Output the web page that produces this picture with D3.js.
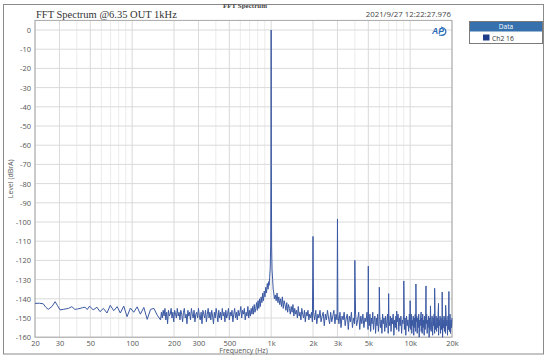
<!DOCTYPE html>
<html><head><meta charset="utf-8">
<script src="https://cdn.jsdelivr.net/npm/d3@7"></script>
<style>body{margin:0;background:#fff}svg{display:block}</style>
</head><body>
<svg id="c" width="550" height="358"></svg>
<script>
// ---- data ----
const xTicks = [20,30,50,100,200,300,500,1000,2000,3000,5000,10000,20000];
const xTickLabels = ["20","30","50","100","200","300","500","1k","2k","3k","5k","10k","20k"];
const xMinorGrid = [40,60,70,80,90,400,600,700,800,900,4000,6000,7000,8000,9000];
const yTicks = [0,-10,-20,-30,-40,-50,-60,-70,-80,-90,-100,-110,-120,-130,-140,-150,-160];

// low-frequency part of the trace (explicit points)
const lowHz = [20,21.5,22.9,24,24.9,26.5,27.9,29,30.3,32,33.5,34.8,36.8,38.7,40.5,42.2,44,45.9,47.5,49.4,52.4,55.8,58.7,62.1,65.9,69.6,73.7,78,82.2,87,91.9,97.1,102.7,108.6,114.6,121.3,128.3,135.6,143.3,151.4];
const lowDb = [-142.4,-142.3,-142.6,-144.5,-145.5,-144,-141.5,-143.5,-145.8,-145.5,-145.2,-145,-144.1,-145.5,-145.3,-145,-144.6,-144.4,-145.6,-143.8,-145.8,-144.4,-146.7,-145,-147.4,-143.4,-146.2,-144.1,-147.4,-143.8,-149.3,-144.8,-147,-144.2,-148,-144.5,-150.7,-145.5,-145,-148.5];

// dense noise bands: [startHz, endHz] and the values read across each band
const bandHz = [[160,690],[700,962],[1040,1980],[2020,2980],[3020,4980],[5020,9980],[10020,20000]];
const bandDb = [
 [-151,-147,-150,-146,-149,-145,-151,-147,-153,-146,-149,-148,-145,-150,-147,-152,-146,-148,-150,-145,-149,-147,-151,-146,-148,-152,-147,-145,-150,-148,-153,-146,-149,-147,-151,-145,-148,-150,-146,-152,-148,-147,-150,-145,-149,-151,-147,-153,-146,-148,-150,-146,-152,-148,-145,-150,-147,-151,-146,-149,-153,-147,-150,-145,-148,-152,-146,-150,-147,-151,-145,-149,-147,-152,-146,-150,-148,-145,-151,-147,-149,-146,-152,-148,-145,-150,-147,-151,-146,-149,-147,-144,-150,-146,-148,-145,-151,-147,-149,-144,-150],
 [-146,-149,-145,-148,-144,-148,-143,-147,-145,-142,-146,-141,-145,-140,-144,-139,-142,-137,-141,-136,-139,-134,-137,-132,-135,-131],
 [-136,-140,-138,-141,-137,-142,-139,-143,-140,-144,-139,-145,-141,-143,-146,-142,-147,-143,-145,-148,-144,-147,-143,-149,-145,-148,-146,-150,-144,-149,-147,-151,-145,-148,-150,-146,-152,-147,-149,-146,-151,-148,-150,-147,-152],
 [-147,-151,-146,-153,-148,-150,-146,-152,-149,-147,-154,-148,-151,-146,-150,-153,-147,-152,-149,-146,-153,-148,-151],
 [-148,-153,-147,-155,-149,-151,-147,-154,-150,-148,-156,-149,-152,-147,-155,-150,-153,-148,-154,-151,-147,-156,-149,-153,-148,-155,-150,-152,-147,-156],
 [-149,-154,-148,-157,-150,-153,-147,-156,-151,-149,-158,-150,-154,-148,-157,-152,-149,-155,-151,-158,-148,-153,-150,-157,-149,-155,-152,-148,-158,-151,-154,-149,-157,-150,-153,-148,-159,-151,-155,-149,-156,-152,-148,-157,-150,-154,-149,-158,-151,-153,-148,-156,-150,-159,-149,-154,-151,-157,-148,-155],
 [-150,-156,-148,-158,-151,-154,-149,-159,-150,-155,-148,-157,-152,-149,-158,-150,-155,-148,-160,-151,-154,-149,-157,-150,-158,-148,-155,-151,-159,-149,-156,-150,-153,-148,-158,-151,-155,-149,-160,-150,-156,-148,-157,-152,-149,-159,-150,-154,-148,-158,-151,-156,-149,-157,-150,-155,-148,-159,-151,-154,-149,-158,-150,-156,-148,-160,-151,-155,-149,-157,-150,-158,-148,-154,-151,-159,-149,-156,-150,-157,-148,-158,-151,-155,-150]
];

// skirt around the fundamental
const skirtHz = [966,975,985,992,997,1003,1008,1015,1025,1034];
const skirtDb = [-133,-129,-124,-112,-70,-70,-113,-125,-130,-135];

// fundamental and harmonics
const harmHz = [1000,2000,3000,4000,5000,6000,7000,8000,9000,10000,11000,12000,13000,14000,15000,16000,17000,18000,19000];
const harmDb = [0,-107.5,-98.4,-120,-123,-134,-137.3,-146.4,-130.7,-141,-132.3,-146.9,-133.3,-143.7,-134.5,-142.4,-136.5,-143.4,-136.2];

// ---- layout ----
const svg = d3.select("#c");
const L=35, R=452, T=20.4, B=337.2;
const x = d3.scaleLog().domain([20,20000]).range([L,R]);
const y = d3.scaleLinear().domain([-160,5]).range([B,T]);

// outer frame
svg.append("rect").attr("x",3.5).attr("y",4.5).attr("width",540).attr("height",349.5)
  .attr("fill","#fff").attr("stroke","#8a8a8a").attr("stroke-width",1);

// grid
const g = svg.append("g");
g.selectAll(".mn").data(xMinorGrid).join("line")
  .attr("x1",d=>x(d)).attr("x2",d=>x(d)).attr("y1",T).attr("y2",B)
  .attr("stroke","#ececec").attr("stroke-width",1);
g.selectAll(".mj").data(xTicks).join("line")
  .attr("x1",d=>x(d)).attr("x2",d=>x(d)).attr("y1",T).attr("y2",B)
  .attr("stroke","#dadada").attr("stroke-width",1);
g.selectAll(".hz").data(yTicks).join("line")
  .attr("x1",L).attr("x2",R).attr("y1",d=>y(d)).attr("y2",d=>y(d))
  .attr("stroke","#dadada").attr("stroke-width",1);

// plot border
svg.append("rect").attr("x",L).attr("y",T).attr("width",R-L).attr("height",B-T)
  .attr("fill","none").attr("stroke","#a8a8a8").attr("stroke-width",1);

// build trace
let pts = lowHz.map((f,i)=>({f, v: lowDb[i]}));
bandHz.forEach((b,k)=>{
  const vals = bandDb[k], n = vals.length;
  const pos = d3.scaleLinear().domain([0,n-1]).range([Math.log10(b[0]),Math.log10(b[1])]);
  vals.forEach((v,i)=>pts.push({f: Math.pow(10,pos(i)), v}));
});
skirtHz.forEach((f,i)=>pts.push({f, v: skirtDb[i]}));
harmHz.forEach((f,i)=>pts.push({f, v: harmDb[i]}));
pts.sort((a,b)=>a.f-b.f);

const line = d3.line().x(d=>x(d.f)).y(d=>y(d.v));
svg.append("path").datum(pts).attr("d",line)
  .attr("fill","none").attr("stroke","#3b59a3").attr("stroke-width",1)
  .attr("stroke-linejoin","round");

// axes
const font = "'Open Sans', 'DejaVu Sans', sans-serif";
const ya = svg.append("g").attr("transform",`translate(${L},0)`)
  .call(d3.axisLeft(y).tickValues(yTicks).tickSize(0).tickPadding(4).tickFormat(d=>d));
const xa = svg.append("g").attr("transform",`translate(0,${B})`)
  .call(d3.axisBottom(x).tickValues(xTicks).tickSize(0).tickPadding(3).tickFormat((d,i)=>xTickLabels[i]));
[ya,xa].forEach(a=>{
  a.select(".domain").remove();
  a.selectAll("text").attr("font-family",font).attr("font-size",7.5).attr("fill","#555");
});

// axis titles
svg.append("text").attr("x",(L+R)/2).attr("y",353).attr("text-anchor","middle")
  .attr("font-family",font).attr("font-size",7).attr("fill","#555").text("Frequency (Hz)");
svg.append("text").attr("transform",`translate(13,${(T+B)/2}) rotate(-90)`).attr("text-anchor","middle")
  .attr("font-family",font).attr("font-size",7).attr("fill","#555").text("Level (dBrA)");

// titles
svg.append("text").attr("x",36).attr("y",17.5)
  .attr("font-family","'Liberation Serif', serif").attr("font-size",10.5).attr("fill","#333")
  .text("FFT Spectrum @6.35 OUT 1kHz");
svg.append("text").attr("x",245).attr("y",8).attr("text-anchor","middle")
  .attr("font-family","'Liberation Serif', serif").attr("font-size",7).attr("font-weight","bold").attr("fill","#444")
  .text("FFT Spectrum");
svg.append("text").attr("x",451).attr("y",17).attr("text-anchor","end")
  .attr("font-family",font).attr("font-size",7.8).attr("fill","#444")
  .text("2021/9/27 12:22:27.976");

// AP logo
const logo = svg.append("g").attr("transform","translate(432,34)");
logo.append("text").attr("x",0).attr("y",0).attr("font-family","'Liberation Sans', sans-serif")
  .attr("font-size",8.5).attr("font-weight","bold").attr("font-style","italic").attr("fill","#2a6cb8").text("AP");
logo.append("path").attr("d","M9,-7 Q16,-5 13,0 Q11,2 7,1").attr("fill","none").attr("stroke","#2a6cb8").attr("stroke-width",1.2);

// legend
const lg = svg.append("g");
lg.append("rect").attr("x",469.5).attr("y",21.5).attr("width",73).attr("height",22)
  .attr("fill","#fff").attr("stroke","#7a7a7a").attr("stroke-width",1);
lg.append("rect").attr("x",470).attr("y",22).attr("width",72).attr("height",9.5).attr("fill","#3670ad");
lg.append("text").attr("x",506).attr("y",29.3).attr("text-anchor","middle")
  .attr("font-family",font).attr("font-size",6.5).attr("fill","#fff").text("Data");
lg.append("rect").attr("x",483).attr("y",34.5).attr("width",6.5).attr("height",6).attr("fill","#1f3c88");
lg.append("text").attr("x",492).attr("y",40.5)
  .attr("font-family",font).attr("font-size",6.8).attr("fill","#333").text("Ch2  16");
</script>
</body></html>
